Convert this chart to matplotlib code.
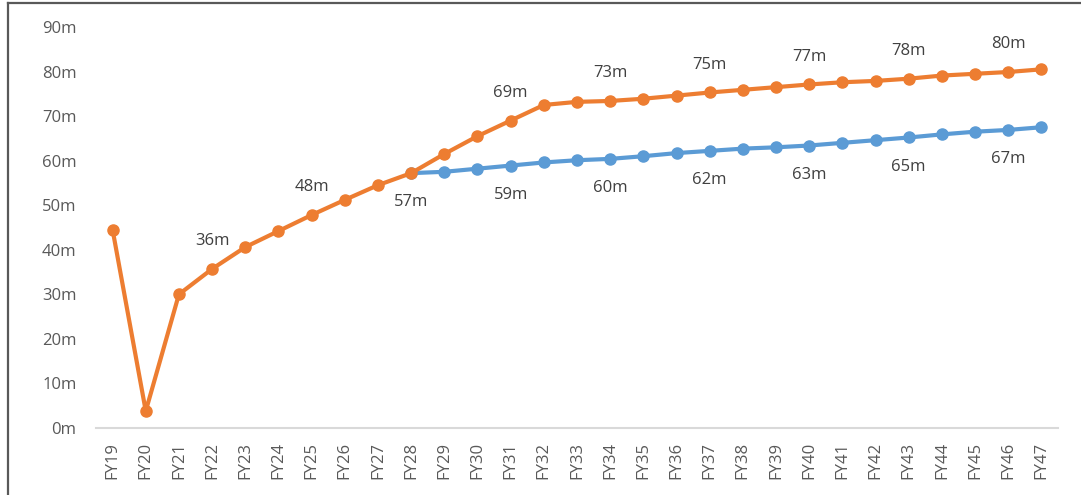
import matplotlib
matplotlib.use("Agg")
import matplotlib.pyplot as plt
from matplotlib.lines import Line2D

years = [f"FY{y}" for y in range(19, 48)]

# Projection with the accelerated path (orange), covering all years
high_case = [44.5, 3.8, 30.0, 35.7, 40.6, 44.2, 47.8, 51.2, 54.5, 57.2,
             61.5, 65.5, 69.0, 72.5, 73.2, 73.4, 73.9, 74.6, 75.3, 75.9,
             76.5, 77.1, 77.6, 77.9, 78.4, 79.1, 79.5, 79.9, 80.5]

# Baseline path (blue), branching off at FY28
base_start = 9
base_case = [57.2, 57.5, 58.2, 58.9, 59.6, 60.1, 60.4, 61.0, 61.7, 62.2,
             62.7, 63.0, 63.4, 64.0, 64.6, 65.2, 65.9, 66.5, 66.9, 67.5]

y_ticks = list(range(0, 91, 10))
label_every = 3
label_first = 3

ORANGE = "#ED7D31"
BLUE = "#5B9BD5"
TEXT = "#595959"
LABEL = "#404040"
FS = 12

plt.rcParams["font.family"] = ["Open Sans", "DejaVu Sans"]

fig = plt.figure(figsize=(10.81, 4.95), dpi=100)
ax = fig.add_axes([96 / 1081, (495 - 428) / 495, (1058 - 96) / 1081, (428 - 27) / 495])

x_all = list(range(len(years)))
x_base = list(range(base_start, base_start + len(base_case)))

ax.plot(x_base, base_case, color=BLUE, lw=3.0, marker="o", ms=8,
        solid_capstyle="round", zorder=2)
ax.plot(x_all, high_case, color=ORANGE, lw=3.0, marker="o", ms=8,
        solid_capstyle="round", zorder=3)


def label(i, value, above):
    ax.annotate(f"{value:.0f}m", (i, value), xytext=(0, 20 if above else -21),
                textcoords="offset points", ha="center", va="center",
                fontsize=FS, color=LABEL)


# Value labels every third year: orange above, blue below
for i in range(label_first, len(years), label_every):
    if i < base_start:
        label(i, high_case[i], True)
    elif i == base_start:
        label(i, base_case[0], False)
    else:
        label(i, high_case[i], True)
        label(i, base_case[i - base_start], False)

ax.set_xlim(-0.5, len(years) - 0.5)
ax.set_ylim(0, 90)
ax.set_yticks(y_ticks)
ax.set_yticklabels([f"{v}m" for v in y_ticks])
ax.set_xticks(x_all)
ax.set_xticklabels(years, rotation=90)

for side in ("top", "right", "left"):
    ax.spines[side].set_visible(False)
ax.spines["bottom"].set_color("#D9D9D9")
ax.spines["bottom"].set_linewidth(1.5)
ax.tick_params(axis="both", length=0, colors=TEXT, labelsize=FS)
ax.tick_params(axis="y", pad=14)
ax.tick_params(axis="x", pad=10)

# Outer chart frame (top and left edges)
fig.add_artist(Line2D([8 / 1081, 1.0], [1 - 3 / 495, 1 - 3 / 495],
                      transform=fig.transFigure, color="#595959", lw=1.6))
fig.add_artist(Line2D([8 / 1081, 8 / 1081], [0, 1 - 3 / 495],
                      transform=fig.transFigure, color="#595959", lw=1.6))

fig.savefig("out.png", dpi=100)
